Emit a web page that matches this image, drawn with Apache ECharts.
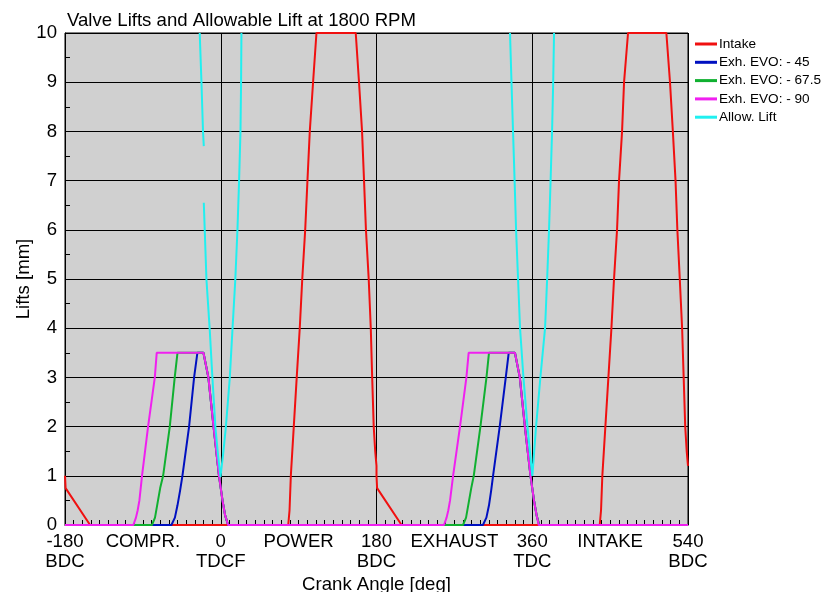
<!DOCTYPE html>
<html>
<head>
<meta charset="utf-8">
<script src="https://cdn.jsdelivr.net/npm/echarts@6/dist/echarts.min.js"></script>
<style>
  html, body { margin: 0; padding: 0; background: #fff; }
  #chart { width: 824px; height: 592px; }
</style>
</head>
<body>
<div id="chart"></div>
<script>
// Crank angle axis ticks (deg) and their captions
const angleTicks = [-180, -90, 0, 90, 180, 270, 360, 450, 540];
const angleCaptions = ['-180\nBDC', 'COMPR.', '0\nTDCF', 'POWER', '180\nBDC', 'EXHAUST', '360\nTDC', 'INTAKE', '540\nBDC'];

const seriesNames = ['Intake', 'Exh. EVO: - 45', 'Exh. EVO: - 67.5', 'Exh. EVO: - 90', 'Allow. Lift'];
const seriesColors = ['#f01010', '#0010c0', '#10b030', '#f020f0', '#20f0f0'];

// Intake valve lift [deg, mm]
const intakeLift = [
  [-180, 1.0], [-179.3, 0.75], [-151, 0], [78, 0], [79.5, 0.3], [81, 1], [84.4, 2], [87.8, 3],
  [91.3, 4], [94.2, 5], [97.6, 6], [100.2, 7], [102.9, 8], [106.7, 9], [110.6, 10], [156, 10],
  [159.8, 9], [163.3, 8], [165.6, 7], [167.8, 6], [171, 5], [173.4, 4], [175, 3], [176.8, 2],
  [178.5, 1.5], [180, 1.2], [180, 1.0], [180.7, 0.75], [209, 0],
  [438, 0], [439.5, 0.3], [441, 1], [444.5, 2], [448, 3], [451.5, 4], [454.5, 5], [458, 6],
  [460.3, 7], [463.8, 8], [466.1, 9], [470.7, 10], [515, 10], [519.2, 9], [522.5, 8], [525.6, 7],
  [527.7, 6], [530.5, 5], [533.2, 4], [535, 3], [536.8, 2], [538.5, 1.5], [540, 1.2]
];

// Exhaust valve lift, EVO -45 [deg, mm]
const exhLift45 = [
  [-180, 0], [-57, 0], [-53, 0.15], [-50, 0.4], [-47, 0.7], [-44.3, 1], [-36.6, 2], [-30.8, 3], [-27, 3.5],
  [-20, 3.5], [-14.3, 3], [-8.3, 2], [-2, 1], [2, 0.5], [5, 0.2], [8.5, 0],
  [303, 0], [307, 0.15], [310, 0.4], [312.5, 0.7], [314.7, 1], [322.4, 2], [329.4, 3], [332.8, 3.5],
  [340, 3.5], [345.6, 3], [351.5, 2], [358, 1], [362, 0.5], [365, 0.2], [368, 0], [540, 0]
];

// Exhaust valve lift, EVO -67.5 [deg, mm]
const exhLift675 = [
  [-180, 0], [-79.5, 0], [-76, 0.15], [-73, 0.45], [-70, 0.75], [-66.6, 1], [-58.9, 2], [-53.2, 3], [-50, 3.5],
  [-20, 3.5], [-14.3, 3], [-8.3, 2], [-2, 1], [2, 0.5], [5, 0.2], [8.5, 0],
  [280, 0], [283.5, 0.15], [286.5, 0.45], [289.5, 0.75], [292.4, 1], [300.1, 2], [307.1, 3], [310, 3.5],
  [340, 3.5], [345.6, 3], [351.5, 2], [358, 1], [362, 0.5], [365, 0.2], [368, 0], [540, 0]
];

// Exhaust valve lift, EVO -90 [deg, mm]
const exhLift90 = [
  [-180, 0], [-101, 0], [-98, 0.15], [-96, 0.3], [-94, 0.5], [-91, 1], [-84, 2], [-76.2, 3], [-74, 3.5],
  [-20, 3.5], [-14.3, 3], [-8.3, 2], [-2, 1], [2, 0.5], [5, 0.2], [8.5, 0],
  [258, 0], [261, 0.15], [263, 0.3], [265, 0.5], [268.5, 1], [276.5, 2], [283.9, 3], [286.5, 3.5],
  [340, 3.5], [345.6, 3], [351.5, 2], [358, 1], [362, 0.5], [365, 0.2], [367.5, 0], [540, 0]
];

// Allowable lift around the two TDCs [deg, mm]; null breaks the line
const allowLift = [
  [-24.3, 10], [-22.3, 9], [-20.5, 8], [-19.6, 7.7], [-19.6, null],
  [-19.6, 6.55], [-16.5, 4.98], [-12.7, 3.96], [-9.6, 2.98], [-6.1, 1.97], [-3, 1.4], [-0.3, 0.98],
  [2.5, 1.4], [5.8, 1.97], [10.4, 2.98], [13.5, 3.96], [16.8, 4.98], [19.3, 6], [21.2, 7], [22.8, 8],
  [23.5, 9], [23.9, 10], [24, null],
  [334.3, 10], [336, 9], [337.8, 8], [339.6, 7], [341.3, 6], [343.6, 5], [345.9, 4], [349.8, 3],
  [354.5, 2], [360.1, 1.0], [364.4, 2], [369.4, 3], [374.8, 4], [377.2, 5], [379.4, 6], [381.2, 7],
  [382.9, 8], [384.2, 9], [385.2, 10]
];

const seriesData = [intakeLift, exhLift45, exhLift675, exhLift90, allowLift];

const FONT = '"Liberation Sans", Arial, sans-serif';
const FS = 18.6;
const chart = echarts.init(document.getElementById('chart'), null, { renderer: 'canvas' });

chart.setOption({
  animation: false,
  backgroundColor: '#ffffff',
  title: {
    text: 'Valve Lifts and Allowable Lift at 1800 RPM',
    left: 67, top: 11, padding: 0,
    textStyle: { fontFamily: FONT, fontSize: FS, fontWeight: 'normal', color: '#000' }
  },
  legend: {
    orient: 'vertical',
    left: 690, top: 32,
    icon: 'rect',
    itemWidth: 22, itemHeight: 3, itemGap: 4.3,
    textStyle: { fontFamily: FONT, fontSize: 13.6, lineHeight: 14, color: '#000', padding: [0, 0, 0, -3] },
    data: seriesNames
  },
  grid: {
    left: 65, right: 136, top: 33, bottom: 67,
    outerBoundsMode: 'none',
    containLabel: false,
    show: true, backgroundColor: '#d0d0d0', borderColor: '#000', borderWidth: 1
  },
  xAxis: [
    {
      type: 'value', min: -180, max: 540, interval: 90,
      name: 'Crank Angle [deg]', nameLocation: 'middle', nameGap: 50, nameMoveOverlap: false,
      nameTextStyle: { fontFamily: FONT, fontSize: FS, color: '#000' },
      axisLine: { onZero: false, lineStyle: { color: '#000', width: 1 } },
      axisTick: { show: true, inside: true, length: 5, lineStyle: { color: '#000' } },
      minorTick: { show: true, splitNumber: 9, length: 5, lineStyle: { color: '#000' } },
      splitLine: { show: false },
      axisLabel: {
        fontFamily: FONT, fontSize: FS, color: '#000', lineHeight: 20, margin: 7,
        formatter: v => {
          const i = angleTicks.indexOf(v);
          return i >= 0 ? angleCaptions[i] : '';
        }
      }
    },
    {
      // carries the vertical TDC/BDC lines only
      type: 'value', min: -180, max: 540, interval: 180,
      position: 'bottom',
      axisLine: { show: false, onZero: false }, axisTick: { show: false }, axisLabel: { show: false },
      splitLine: { show: true, lineStyle: { color: '#000', width: 1 } }
    }
  ],
  yAxis: {
    type: 'value', min: 0, max: 10, interval: 1,
    name: 'Lifts [mm]', nameLocation: 'middle', nameGap: 32, nameMoveOverlap: false,
    nameTextStyle: { fontFamily: FONT, fontSize: FS, color: '#000' },
    axisLine: { show: true, onZero: false, lineStyle: { color: '#000', width: 1 } },
    axisTick: { show: true, inside: true, length: 5, lineStyle: { color: '#000' } },
    minorTick: { show: true, splitNumber: 2, length: 5, lineStyle: { color: '#000' } },
    splitLine: { show: true, lineStyle: { color: '#000', width: 1 } },
    axisLabel: { fontFamily: FONT, fontSize: FS, color: '#000', margin: 8 }
  },
  series: seriesNames.map((name, i) => ({
    name: name,
    type: 'line',
    xAxisIndex: 0,
    data: seriesData[i],
    showSymbol: false,
    symbol: 'none',
    connectNulls: false,
    clip: true,
    color: seriesColors[i],
    lineStyle: { color: seriesColors[i], width: 2 }
  }))
});
</script>
</body>
</html>
